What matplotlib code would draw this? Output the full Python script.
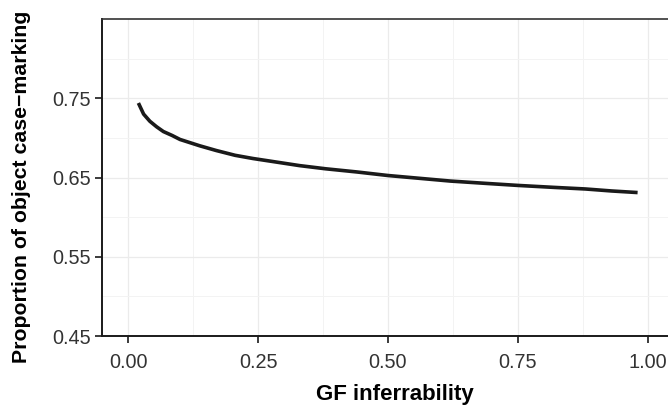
import numpy as np
import matplotlib.pyplot as plt

plt.rcParams['font.family'] = ['Liberation Sans', 'DejaVu Sans']

# values
gf_inferrability = [0.020, 0.030, 0.042, 0.055, 0.068, 0.085, 0.100, 0.138, 0.170,
                    0.206, 0.240, 0.280, 0.330, 0.380, 0.440, 0.500, 0.560, 0.620,
                    0.690, 0.750, 0.820, 0.880, 0.930, 0.980]
prop_case_marking = [0.744, 0.730, 0.721, 0.714, 0.708, 0.703, 0.698, 0.690, 0.684,
                     0.678, 0.674, 0.670, 0.665, 0.661, 0.657, 0.6525, 0.649, 0.6455,
                     0.6425, 0.640, 0.6375, 0.6355, 0.633, 0.631]

x_ticks = [0.00, 0.25, 0.50, 0.75, 1.00]
x_ticklabels = ["0.00", "0.25", "0.50", "0.75", "1.00"]
y_ticks = [0.45, 0.55, 0.65, 0.75]
y_ticklabels = ["0.45", "0.55", "0.65", "0.75"]

fig = plt.figure(figsize=(6.68, 4.05), dpi=100)
W, H = 668, 405
left, right, top, bottom = 102, 674, 19, 336
ax = fig.add_axes([left / W, (H - bottom) / H, (right - left) / W, (bottom - top) / H])

ax.plot(gf_inferrability, prop_case_marking, color='#1a1a1a', lw=2.6,
        solid_capstyle='butt', solid_joinstyle='round')

ax.set_xlim(-0.05, 1.05)
ax.set_ylim(0.45, 0.85)
ax.set_xticks(x_ticks)
ax.set_xticklabels(x_ticklabels)
ax.set_yticks(y_ticks)
ax.set_yticklabels(y_ticklabels)
ax.set_xticks([0.125, 0.375, 0.625, 0.875], minor=True)
ax.set_yticks([0.50, 0.60, 0.70, 0.80], minor=True)

ax.grid(which='major', color='#ebebeb', lw=0.9)
ax.grid(which='minor', color='#f3f3f3', lw=0.7)
ax.set_axisbelow(True)
ax.tick_params(which='minor', length=0)
ax.tick_params(which='major', length=5, width=1.2, color='#1a1a1a',
               labelsize=14.3, labelcolor='#333333')
ax.tick_params(axis='x', pad=7)
ax.tick_params(axis='y', pad=3)

for s in ['left', 'bottom']:
    ax.spines[s].set_linewidth(1.4)
    ax.spines[s].set_color('#1a1a1a')
ax.spines['top'].set_linewidth(1.2)
ax.spines['top'].set_color('#333333')

ax.set_xlabel("GF inferrability", fontsize=16, fontweight='bold', va='center')
ax.xaxis.set_label_coords(0.512, -0.183)
ax.set_ylabel("Proportion of object case\u2212marking", fontsize=15.3, fontweight='bold', va='center')
ax.yaxis.set_label_coords(-0.140, 0.470)

fig.savefig("out.png", dpi=100)
